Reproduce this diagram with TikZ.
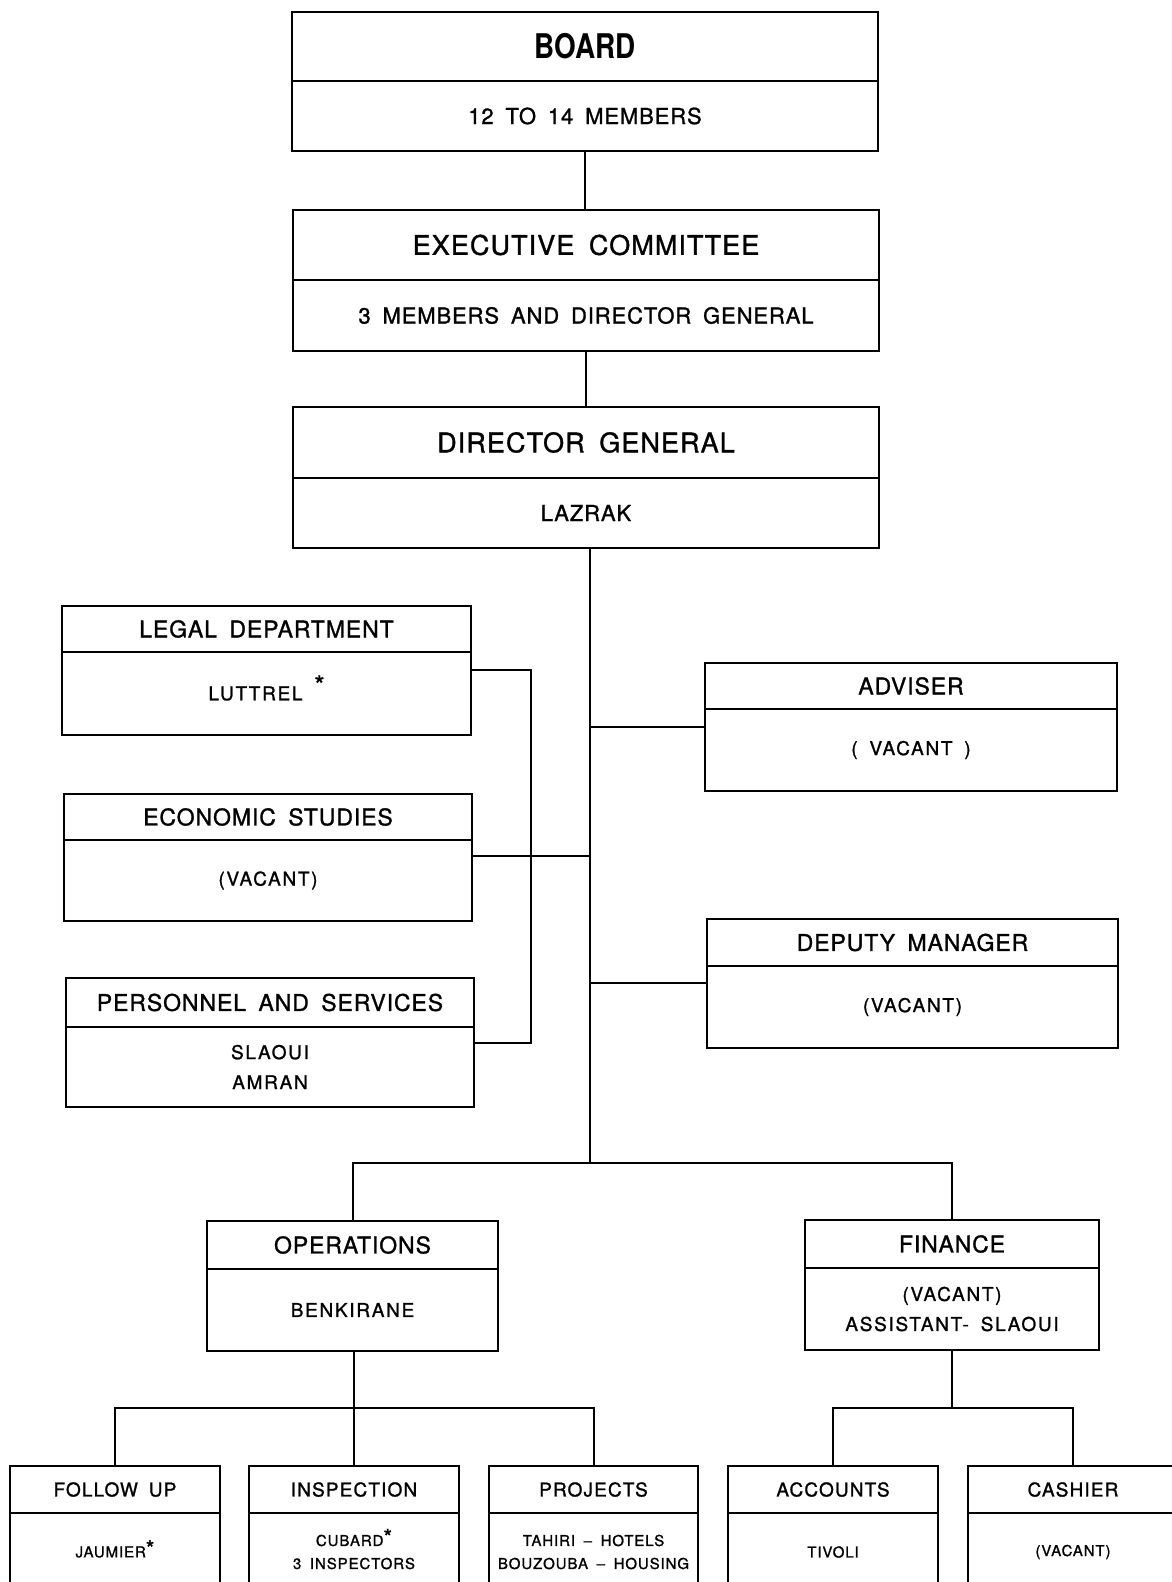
\documentclass[tikz,border=0pt]{standalone}
\usepackage{fontspec}
\setmainfont{TeX Gyre Heros}[LetterSpace=4,WordSpace=1.7,FakeBold=1.2]
\newfontfamily\boardfont{TeX Gyre Heros}[FakeStretch=0.82]
\usetikzlibrary{positioning}
\newcommand{\footmark}[2][2.5pt]{\smash{\raisebox{#1}{\fontsize{#2}{#2}\selectfont *}}}

\begin{document}
\begin{tikzpicture}[
		x=0.5pt,y=-0.5pt,line width=1pt,
		every node/.style={inner sep=0pt,outer sep=0pt},
		head/.style={draw,align=center,anchor=north west},
		sub/.style={draw,align=center},
		bigtitle/.style={font=\fontsize{13.5}{16}\selectfont},
		bigtext/.style={font=\fontsize{11}{14}\selectfont},
		midtitle/.style={font=\fontsize{11.5}{14}\selectfont},
		midtext/.style={font=\fontsize{9.5}{15}\selectfont\addfontfeature{LetterSpace=9}},
		smalltitle/.style={font=\fontsize{9.5}{12}\selectfont\addfontfeature{LetterSpace=6}},
		smalltext/.style={font=\fontsize{7.5}{11.5}\selectfont\addfontfeature{LetterSpace=6}}
		]
		\useasboundingbox (0,0) rectangle (1171,1582);
		% top of the chart
		\node[head,minimum width=293pt,minimum height=34.5pt] (board) at (292,12) {\boardfont\fontsize{17}{20}\selectfont\bfseries BOARD};
		\node[sub,bigtext,minimum width=293pt,minimum height=35pt,below=0pt of board] (board-b) {12 TO 14 MEMBERS};
		\node[head,bigtitle,minimum width=293pt,minimum height=35pt] (exec) at (293,210) {EXECUTIVE COMMITTEE};
		\node[sub,bigtext,minimum width=293pt,minimum height=35.5pt,below=0pt of exec] (exec-b) {3 MEMBERS AND DIRECTOR GENERAL};
		\node[head,bigtitle,minimum width=293pt,minimum height=35.5pt] (dir) at (293,407) {DIRECTOR GENERAL};
		\node[sub,bigtext,minimum width=293pt,minimum height=35pt,below=0pt of dir] (dir-b) {LAZRAK};
		% staff on the left
		\node[head,midtitle,minimum width=204.5pt,minimum height=23pt] (legal) at (62,606) {LEGAL DEPARTMENT};
		\node[sub,midtext,minimum width=204.5pt,minimum height=41.5pt,below=0pt of legal] (legal-b) {LUTTREL \footmark[3pt]{13}};
		\node[head,midtitle,minimum width=204pt,minimum height=23pt] (econ) at (64,794) {ECONOMIC STUDIES};
		\node[sub,midtext,minimum width=204pt,minimum height=40.5pt,below=0pt of econ] (econ-b) {(VACANT)};
		\node[head,midtitle,minimum width=204pt,minimum height=24.5pt] (pers) at (66,978) {PERSONNEL AND SERVICES};
		\node[sub,midtext,minimum width=204pt,minimum height=40pt,below=0pt of pers] (pers-b) {SLAOUI\\AMRAN};
		% staff on the right
		\node[head,midtitle,minimum width=206pt,minimum height=23pt] (adv) at (705,663) {ADVISER};
		\node[sub,midtext,minimum width=206pt,minimum height=41pt,below=0pt of adv] (adv-b) {( VACANT )};
		\node[head,midtitle,minimum width=205.5pt,minimum height=23.5pt] (dep) at (707,919) {DEPUTY MANAGER};
		\node[sub,midtext,minimum width=205.5pt,minimum height=41pt,below=0pt of dep] (dep-b) {(VACANT)};
		% divisions
		\node[head,midtitle,minimum width=145.5pt,minimum height=24pt] (ops) at (207,1221) {OPERATIONS};
		\node[sub,midtext,minimum width=145.5pt,minimum height=41pt,below=0pt of ops] (ops-b) {BENKIRANE};
		\node[head,midtitle,minimum width=147pt,minimum height=24pt] (fin) at (805,1220) {FINANCE};
		\node[sub,midtext,minimum width=147pt,minimum height=41pt,below=0pt of fin] (fin-b) {(VACANT)\\ASSISTANT- SLAOUI};
		% sections
		\node[head,smalltitle,minimum width=105pt,minimum height=23.5pt] (follow) at (10,1466) {FOLLOW UP};
		\node[sub,smalltext,minimum width=105pt,minimum height=39pt,below=0pt of follow] (follow-b) {JAUMIER\footmark[0.5pt]{11}};
		\node[head,smalltitle,minimum width=105pt,minimum height=23.5pt] (insp) at (249,1466) {INSPECTION};
		\node[sub,smalltext,minimum width=105pt,minimum height=39pt,below=0pt of insp] (insp-b) {CUBARD\footmark[0.5pt]{11}\\3 INSPECTORS};
		\node[head,smalltitle,minimum width=104.5pt,minimum height=23.5pt] (proj) at (489,1466) {PROJECTS};
		\node[sub,smalltext,minimum width=104.5pt,minimum height=39pt,below=0pt of proj] (proj-b) {TAHIRI -- HOTELS\\BOUZOUBA -- HOUSING};
		\node[head,smalltitle,minimum width=105pt,minimum height=23.5pt] (acc) at (728,1466) {ACCOUNTS};
		\node[sub,smalltext,minimum width=105pt,minimum height=39pt,below=0pt of acc] (acc-b) {TIVOLI};
		\node[head,smalltitle,minimum width=105pt,minimum height=23.5pt] (cash) at (968,1466) {CASHIER};
		\node[sub,smalltext,minimum width=105pt,minimum height=39pt,below=0pt of cash] (cash-b) {(VACANT)};
		% junctions
		\coordinate (trunk) at (590,1163);
		\coordinate (jlegal) at (531,670);
		\coordinate (jpers) at (531,1043);
		\coordinate (jecon) at (590,856);
		\coordinate (jadv) at (590,727);
		\coordinate (jdep) at (590,983);
		\coordinate (jops) at (354,1408);
		\coordinate (jfin) at (952,1408);
		% lines
		\draw (board-b.south) -- (board-b.south |- exec.north);
		\draw (exec-b.south) -- (exec-b.south |- dir.north);
		\draw (dir-b.south -| trunk) -- (trunk);
		\draw (ops.north) |- (trunk) -| (fin.north);
		\draw (legal-b.east |- jlegal) -| (jpers) -- (pers-b.east |- jpers);
		\draw (econ-b.east |- jecon) -- (jecon);
		\draw (jadv) -- (adv-b.west |- jadv);
		\draw (jdep) -- (dep-b.west |- jdep);
		\draw (ops-b.south -| jops) -- (jops);
		\draw (follow.north) |- (jops) -| (proj.north);
		\draw (insp.north) -- (insp.north |- jops);
		\draw (fin-b.south -| jfin) -- (jfin);
		\draw (acc.north) |- (jfin) -| (cash.north);
	\end{tikzpicture}
\end{document}
